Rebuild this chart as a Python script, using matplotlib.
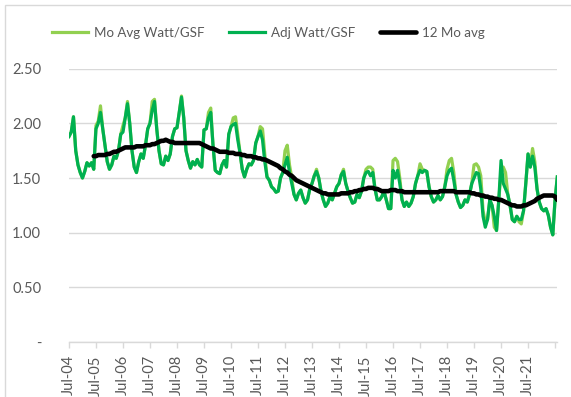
#!/usr/bin/env python

from matplotlib import pyplot as plt
from matplotlib.patches import Rectangle
import numpy as np

# monthly Watt/GSF, Jul-04 .. Aug-22, one row per Jul..Jun year
adj_watt = [
	1.88, 1.92, 2.06, 1.75, 1.62, 1.55, 1.50, 1.56, 1.64, 1.61, 1.64, 1.58,
	1.95, 2.00, 2.10, 1.95, 1.80, 1.65, 1.58, 1.62, 1.70, 1.68, 1.75, 1.90,
	1.92, 2.05, 2.18, 2.00, 1.75, 1.60, 1.55, 1.65, 1.72, 1.68, 1.80, 1.95,
	2.00, 2.12, 2.20, 1.95, 1.75, 1.63, 1.62, 1.70, 1.66, 1.72, 1.88, 1.95,
	1.96, 2.10, 2.24, 2.05, 1.75, 1.66, 1.59, 1.65, 1.62, 1.67, 1.62, 1.60,
	1.94, 1.95, 2.05, 2.10, 1.80, 1.57, 1.55, 1.54, 1.62, 1.66, 1.60, 1.90,
	1.97, 1.99, 2.00, 1.85, 1.73, 1.58, 1.51, 1.58, 1.63, 1.62, 1.66, 1.82,
	1.88, 1.93, 1.85, 1.65, 1.51, 1.48, 1.42, 1.40, 1.37, 1.38, 1.50, 1.55,
	1.62, 1.69, 1.55, 1.45, 1.35, 1.30, 1.36, 1.39, 1.32, 1.27, 1.30, 1.40,
	1.45, 1.52, 1.56, 1.50, 1.38, 1.30, 1.24, 1.27, 1.33, 1.30, 1.36, 1.42,
	1.45, 1.53, 1.56, 1.45, 1.38, 1.32, 1.27, 1.28, 1.35, 1.32, 1.38, 1.50,
	1.55, 1.56, 1.52, 1.55, 1.40, 1.30, 1.30, 1.33, 1.38, 1.30, 1.22, 1.22,
	1.57, 1.50, 1.57, 1.45, 1.30, 1.24, 1.28, 1.24, 1.27, 1.33, 1.45, 1.52,
	1.57, 1.55, 1.57, 1.56, 1.42, 1.33, 1.28, 1.30, 1.34, 1.30, 1.33, 1.42,
	1.52, 1.57, 1.59, 1.48, 1.35, 1.28, 1.23, 1.25, 1.30, 1.28, 1.35, 1.45,
	1.50, 1.55, 1.54, 1.40, 1.15, 1.05, 1.12, 1.30, 1.25, 1.15, 1.02, 1.30,
	1.66, 1.45, 1.40, 1.35, 1.25, 1.12, 1.10, 1.15, 1.12, 1.12, 1.20, 1.45,
	1.72, 1.60, 1.70, 1.60, 1.40, 1.28, 1.22, 1.20, 1.22, 1.16, 1.05, 0.98,
	1.30, 1.51,
]

mo_avg_watt = [
	1.88, 1.92, 2.06, 1.75, 1.62, 1.55, 1.50, 1.56, 1.64, 1.61, 1.64, 1.58,
	1.98, 2.02, 2.16, 1.95, 1.80, 1.65, 1.58, 1.62, 1.70, 1.68, 1.75, 1.90,
	1.98, 2.05, 2.20, 2.00, 1.75, 1.60, 1.55, 1.65, 1.72, 1.68, 1.80, 1.95,
	2.00, 2.20, 2.22, 1.95, 1.75, 1.63, 1.62, 1.70, 1.66, 1.72, 1.88, 1.95,
	1.96, 2.10, 2.25, 2.05, 1.75, 1.66, 1.59, 1.65, 1.62, 1.67, 1.62, 1.60,
	1.94, 1.95, 2.10, 2.14, 1.80, 1.57, 1.55, 1.54, 1.62, 1.66, 1.60, 1.90,
	1.97, 2.05, 2.06, 1.90, 1.73, 1.58, 1.51, 1.58, 1.63, 1.62, 1.66, 1.82,
	1.88, 1.97, 1.95, 1.72, 1.51, 1.48, 1.42, 1.40, 1.37, 1.38, 1.50, 1.55,
	1.75, 1.80, 1.62, 1.50, 1.35, 1.30, 1.36, 1.39, 1.32, 1.27, 1.30, 1.40,
	1.45, 1.52, 1.58, 1.50, 1.38, 1.30, 1.24, 1.27, 1.33, 1.30, 1.36, 1.42,
	1.45, 1.53, 1.58, 1.45, 1.38, 1.32, 1.27, 1.28, 1.35, 1.32, 1.38, 1.50,
	1.58, 1.60, 1.60, 1.58, 1.40, 1.30, 1.30, 1.33, 1.38, 1.30, 1.22, 1.22,
	1.66, 1.68, 1.65, 1.50, 1.30, 1.24, 1.28, 1.24, 1.27, 1.33, 1.45, 1.52,
	1.63, 1.58, 1.57, 1.56, 1.42, 1.33, 1.28, 1.30, 1.34, 1.30, 1.33, 1.42,
	1.58, 1.66, 1.68, 1.55, 1.35, 1.28, 1.23, 1.25, 1.30, 1.28, 1.35, 1.45,
	1.62, 1.63, 1.60, 1.52, 1.20, 1.10, 1.12, 1.30, 1.25, 1.05, 1.02, 1.30,
	1.55, 1.60, 1.55, 1.35, 1.25, 1.12, 1.10, 1.15, 1.10, 1.08, 1.20, 1.45,
	1.72, 1.60, 1.77, 1.65, 1.40, 1.28, 1.22, 1.20, 1.22, 1.16, 1.05, 0.98,
	1.30, 1.51,
]

# trailing 12 month average, first value at Jun-05
avg_12mo = [
	1.70, 1.70, 1.71, 1.71, 1.71, 1.71,
	1.72, 1.72, 1.73, 1.74, 1.74, 1.75,
	1.76, 1.77, 1.78, 1.78, 1.78, 1.78,
	1.78, 1.79, 1.79, 1.79, 1.79, 1.80,
	1.80, 1.80, 1.81, 1.81, 1.82, 1.83,
	1.84, 1.84, 1.85, 1.84, 1.83, 1.83,
	1.82, 1.82, 1.82, 1.82, 1.82, 1.82,
	1.82, 1.82, 1.82, 1.82, 1.82, 1.82,
	1.81, 1.80, 1.79, 1.78, 1.77, 1.77,
	1.76, 1.75, 1.74, 1.74, 1.74, 1.74,
	1.73, 1.73, 1.73, 1.72, 1.72, 1.72,
	1.71, 1.71, 1.70, 1.70, 1.70, 1.69,
	1.69, 1.68, 1.68, 1.67, 1.67, 1.66,
	1.65, 1.64, 1.63, 1.62, 1.61, 1.59,
	1.58, 1.56, 1.55, 1.53, 1.52, 1.50,
	1.48, 1.47, 1.46, 1.45, 1.44, 1.43,
	1.42, 1.41, 1.40, 1.39, 1.38, 1.37,
	1.36, 1.36, 1.35, 1.35, 1.35, 1.35,
	1.35, 1.35, 1.36, 1.36, 1.36, 1.36,
	1.37, 1.37, 1.38, 1.38, 1.39, 1.39,
	1.40, 1.40, 1.41, 1.41, 1.41, 1.40,
	1.40, 1.39, 1.38, 1.38, 1.38, 1.38,
	1.39, 1.39, 1.39, 1.38, 1.38, 1.38,
	1.37, 1.37, 1.37, 1.37, 1.37, 1.37,
	1.37, 1.37, 1.37, 1.37, 1.37, 1.37,
	1.37, 1.37, 1.37, 1.37, 1.38, 1.38,
	1.38, 1.38, 1.38, 1.38, 1.38, 1.37,
	1.37, 1.37, 1.37, 1.37, 1.37, 1.37,
	1.36, 1.36, 1.35, 1.35, 1.34, 1.34,
	1.33, 1.33, 1.32, 1.32, 1.31, 1.31,
	1.30, 1.30, 1.29, 1.28, 1.27, 1.26,
	1.25, 1.25, 1.24, 1.24, 1.24, 1.25,
	1.25, 1.26, 1.27, 1.28, 1.29, 1.31,
	1.32, 1.33, 1.34, 1.34, 1.34, 1.34,
	1.34, 1.33, 1.30,
]

year_labels = ['Jul-04', 'Jul-05', 'Jul-06', 'Jul-07', 'Jul-08', 'Jul-09',
			   'Jul-10', 'Jul-11', 'Jul-12', 'Jul-13', 'Jul-14', 'Jul-15',
			   'Jul-16', 'Jul-17', 'Jul-18', 'Jul-19', 'Jul-20', 'Jul-21']

y_ticks = [0, 0.5, 1.0, 1.5, 2.0, 2.5]
y_labels = ['-', '0.50', '1.00', '1.50', '2.00', '2.50']


def main():
	plt.rcParams['font.family'] = ['Lato', 'DejaVu Sans']
	grey = '#595959'

	n = len(adj_watt)
	months = np.arange(n)
	avg_start = n - len(avg_12mo)

	fig = plt.figure(figsize=(5.71, 3.97), dpi=100)
	ax = fig.add_axes([0.1208, 0.1385, 0.8552, 0.6885])

	ax.plot(months, mo_avg_watt, color='#92D050', lw=2.3,
			solid_joinstyle='round', label='Mo Avg Watt/GSF')
	ax.plot(months, adj_watt, color='#00B050', lw=2.3,
			solid_joinstyle='round', label='Adj Watt/GSF')
	ax.plot(months[avg_start:], avg_12mo, color='black', lw=3.3,
			solid_capstyle='round', label='12 Mo avg')

	ax.set_xlim(0, n - 1)
	ax.set_ylim(0, 2.5)

	ax.set_yticks(y_ticks)
	ax.set_yticklabels(y_labels)
	ax.set_xticks(np.arange(len(year_labels)) * 12)
	ax.set_xticklabels(year_labels, rotation=90)
	ax.set_xticks([216], minor=True)

	ax.grid(axis='y', color='#D9D9D9', lw=1.0)
	ax.set_axisbelow(True)
	for side in ('left', 'right', 'top'):
		ax.spines[side].set_visible(False)
	ax.spines['bottom'].set_color('#D9D9D9')
	ax.spines['bottom'].set_linewidth(1.0)
	ax.tick_params(axis='y', length=0, pad=20, labelsize=10.5, labelcolor=grey)
	ax.tick_params(axis='x', which='both', length=4.5, color='#D9D9D9',
				   width=1.0, pad=5, labelsize=10.5, labelcolor=grey)

	fig.legend(loc='center', bbox_to_anchor=(0.47, 0.917), ncol=3,
			   frameon=False, fontsize=9.6, labelcolor=grey,
			   handlelength=2.7, handletextpad=0.5, columnspacing=1.8)

	fig.patches.append(Rectangle((5 / 571, -0.05), 1.1, 1.05 - 5 / 397,
								 transform=fig.transFigure, fill=False,
								 edgecolor='#D9D9D9', lw=1.0))

	fig.savefig('out.png', dpi=100)


if __name__ == "__main__":
	main()
